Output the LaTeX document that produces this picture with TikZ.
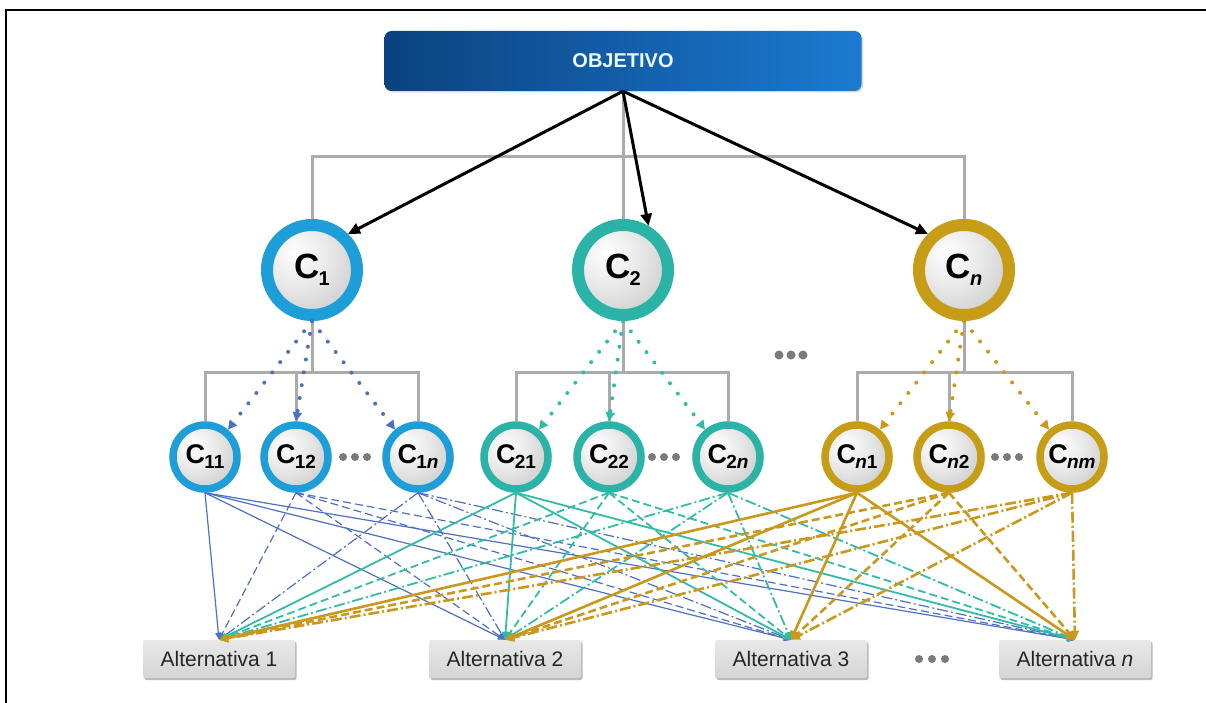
\documentclass[tikz,border=0pt]{standalone}
\usepackage{fontspec}
\setmainfont{Liberation Sans}
\usetikzlibrary{arrows.meta,shadows,calc}
\definecolor{ringA}{HTML}{1E9ED9}
\definecolor{ringB}{HTML}{2AB3A6}
\definecolor{ringC}{HTML}{C79C16}
\definecolor{lineA}{HTML}{4D6FC4}
\definecolor{lineB}{HTML}{33BBAA}
\definecolor{lineC}{HTML}{C9981C}
\definecolor{lgray}{HTML}{ABABAB}
\definecolor{dotgray}{HTML}{7A7A7A}
\definecolor{objL}{HTML}{0B427F}
\definecolor{objR}{HTML}{1B7AD2}
\pgfdeclareradialshading{disc}{\pgfpoint{-10bp}{10bp}}{color(0bp)=(white); color(18bp)=(gray!18); color(40bp)=(gray!45); color(55bp)=(gray!62); color(100bp)=(gray!62)}
\newcommand{\CC}[3]{{\fontsize{#1}{#1}\selectfont\bfseries C\kern-0.03em\raisebox{-0.35ex}{\fontsize{#2}{#2}\selectfont #3}}}
\tikzset{
  bigc/.style={circle, draw=#1, line width=12pt, minimum size=90pt, inner sep=0pt, shade, shading=disc,
    circular drop shadow={shadow xshift=2pt, shadow yshift=-2pt, opacity=0.25}},
  smallc/.style={circle, draw=#1, line width=7.5pt, minimum size=64pt, inner sep=0pt, shade, shading=disc,
    circular drop shadow={shadow xshift=1.5pt, shadow yshift=-1.5pt, opacity=0.25}},
  conn/.style={draw=lgray, line width=3pt},
  blackarr/.style={draw=black, line width=3pt, -{Triangle[length=12pt,width=11pt]}},
  dotarr/.style={draw=#1, line width=4pt, line cap=round, dash pattern=on 0pt off 13pt, -{Triangle[length=9pt,width=9pt]}},
  grp1/.style={draw=lineA, line width=1.2pt, -{Triangle[length=7pt,width=6pt]}},
  grp2/.style={draw=lineB, line width=1.8pt, -{Triangle[length=8pt,width=7pt]}},
  grp3/.style={draw=lineC, line width=2.6pt, -{Triangle[length=9pt,width=8pt]}},
  sty1/.style={},
  sty2/.style={dash pattern=on 8pt off 4pt},
  sty3/.style={dash pattern=on 11pt off 3pt on 2pt off 3pt},
  objbox/.style={rectangle, rounded corners=7pt, minimum width=477pt, minimum height=60pt, left color=objL, right color=objR,
    text=white!92!cyan, font=\fontsize{20}{20}\selectfont\bfseries, drop shadow={shadow xshift=1.5pt, shadow yshift=-1.5pt, opacity=0.3}},
  altbox/.style={rectangle, rounded corners=2pt, minimum width=152pt, minimum height=38pt, top color=gray!18, bottom color=gray!33,
    font=\fontsize{21}{21}\selectfont, text=black!85, drop shadow={shadow xshift=1.5pt, shadow yshift=-2pt, opacity=0.55}},
  dotsty/.style={fill=dotgray}
}
\begin{document}
\begin{tikzpicture}[x=1pt,y=-1pt]
\useasboundingbox (0,0) rectangle (1206,703);
\fill[white] (0,0) rectangle (1206,703);
\draw[line width=2.5pt] (6,703) -- (6,10) -- (1206,10);

% top
\node[objbox] (obj) at (623,61) {OBJETIVO};

% big circles
\node[bigc=ringA] (c1) at (312,270) {\CC{35}{20}{1}};
\node[bigc=ringB] (c2) at (623,270) {\CC{35}{20}{2}};
\node[bigc=ringC] (cn) at (964,270) {\CC{35}{20}{\textit{n}}};

% small circles
\node[smallc=ringA] (c11) at (205,457) {\CC{27}{19}{11}};
\node[smallc=ringA] (c12) at (296,457) {\CC{27}{19}{12}};
\node[smallc=ringA] (c1n) at (418,457) {\CC{27}{19}{1\textit{n}}};
\node[smallc=ringB] (c21) at (516,457) {\CC{27}{19}{21}};
\node[smallc=ringB] (c22) at (609,457) {\CC{27}{19}{22}};
\node[smallc=ringB] (c2n) at (728,457) {\CC{27}{19}{2\textit{n}}};
\node[smallc=ringC] (cn1) at (857,457) {\CC{27}{19}{\textit{n}1}};
\node[smallc=ringC] (cn2) at (949,457) {\CC{27}{19}{\textit{n}2}};
\node[smallc=ringC] (cnm) at (1072,457) {\CC{27}{19}{\textit{nm}}};

% alternatives
\node[altbox] (a1) at (219,659) {Alternativa 1};
\node[altbox] (a2) at (505,659) {Alternativa 2};
\node[altbox] (a3) at (791,659) {Alternativa 3};
\node[altbox] (a4) at (1075,659) {Alternativa \textit{n}};

% gray hierarchy
\coordinate (t) at (623,157);
\draw[conn] (obj.south) -- (c2.north);
\draw[conn] (c1.north) |- (t) -| (cn.north);
\coordinate (j1) at (312,372);
\coordinate (j2) at (623,372);
\coordinate (j3) at (964,372);
\draw[conn] (c1.south) -- (j1);
\draw[conn] (c11.north) |- (j1) -| (c1n.north);
\draw[conn] (c12.north) -- (c12.north |- j1);
\draw[conn] (c2.south) -- (j2);
\draw[conn] (c21.north) |- (j2) -| (c2n.north);
\draw[conn] (c22.north) -- (c22.north |- j2);
\draw[conn] (cn.south) -- (j3);
\draw[conn] (cn1.north) |- (j3) -| (cnm.north);
\draw[conn] (cn2.north) -- (cn2.north |- j3);

% black arrows
\draw[blackarr] (obj.south) -- (c1.45);
\draw[blackarr] (obj.south) -- (c2.60);
\draw[blackarr] (obj.south) -- (cn.135);

% dotted arrows
\draw[dotarr=lineA] (c1.south) -- (c11.50);
\draw[dotarr=lineA] (c1.south) -- (c12.north);
\draw[dotarr=lineA] (c1.south) -- (c1n.130);
\draw[dotarr=lineB] (c2.south) -- (c21.50);
\draw[dotarr=lineB] (c2.south) -- (c22.north);
\draw[dotarr=lineB] (c2.south) -- (c2n.130);
\draw[dotarr=lineC] (cn.south) -- (cn1.50);
\draw[dotarr=lineC] (cn.south) -- (cn2.north);
\draw[dotarr=lineC] (cn.south) -- (cnm.130);

% bottom connectors
\foreach \c/\g/\s in {c11/1/1, c12/1/2, c1n/1/3, c21/2/1, c22/2/2, c2n/2/3, cn1/3/1, cn2/3/2, cnm/3/3}{
  \foreach \a in {a1,a2,a3,a4}{
    \draw[grp\g, sty\s] (\c.south) -- (\a.north);
  }
}

% ellipsis dots
\foreach \x in {779,791,803} \fill[dotsty] (\x,355) circle (4.5);
\foreach \x in {343,355,367} \fill[dotsty] (\x,457) circle (4);
\foreach \x in {652,664,676} \fill[dotsty] (\x,457) circle (4);
\foreach \x in {995,1007,1019} \fill[dotsty] (\x,457) circle (4);
\foreach \x in {919,932,945} \fill[dotsty] (\x,659) circle (4);
\end{tikzpicture}
\end{document}
